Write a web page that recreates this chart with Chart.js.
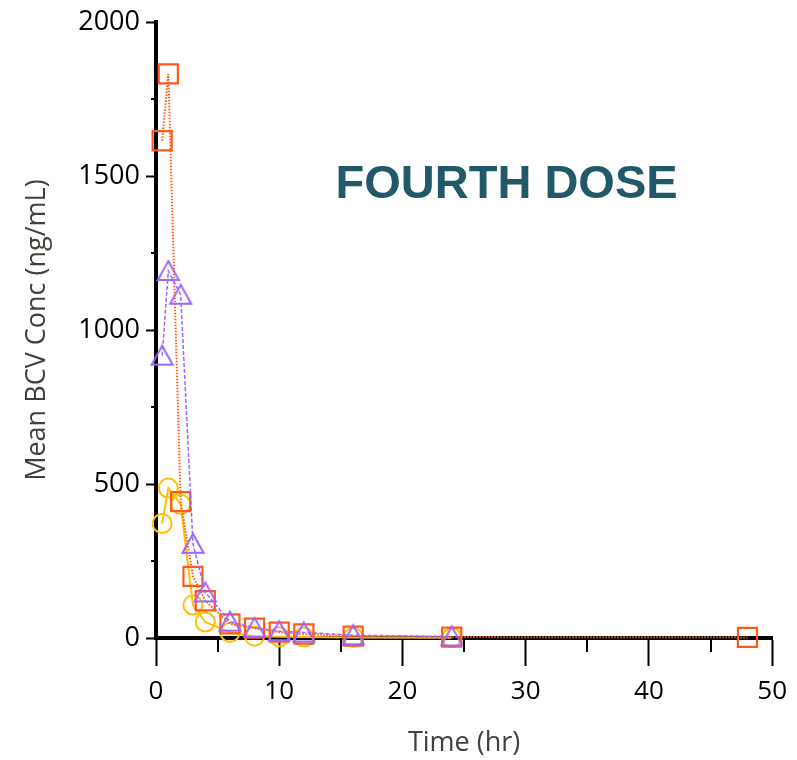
<!DOCTYPE html>
<html>
<head>
<meta charset="utf-8">
<script src="https://cdn.jsdelivr.net/npm/chart.js@4.4.1/dist/chart.umd.min.js"></script>
<style>
  html, body { margin: 0; padding: 0; background: #ffffff; }
  #wrap { position: relative; width: 797px; height: 760px; }
</style>
</head>
<body>
<div id="wrap"><canvas id="c" width="797" height="760"></canvas></div>
<script>
// ---- data ----
const timesHr = [0.5, 1, 2, 3, 4, 6, 8, 10, 12, 16, 24, 48];
const concOrange = [1615, 1832, 443, 200, 121, 46, 32, 19, 13, 6, 3, 2];
const concPurple = [917, 1192, 1115, 306, 148, 53, 33, 22, 18, 9, 5, null];
const concYellow = [372, 487, 434, 107, 52, 18, 6, 4, 3, 2, 1, null];
const xMajorTicks = [0, 10, 20, 30, 40, 50];
const xMinorTicks = [5, 15, 25, 35, 45];
const yMajorTicks = [0, 500, 1000, 1500, 2000];
const yMinorTicks = [250, 750, 1250, 1750];
const titleText = 'FOURTH DOSE';
const xTitle = 'Time (hr)';
const yTitle = 'Mean BCV Conc (ng/mL)';

function toPoints(vals) {
  const pts = [];
  for (let i = 0; i < timesHr.length; i++) {
    if (vals[i] !== null && vals[i] !== undefined) pts.push({ x: timesHr[i], y: vals[i] });
  }
  return pts;
}

// triangle marker centred on its bounding box
function triangleMarker(color) {
  const c = document.createElement('canvas');
  c.width = 26; c.height = 26;
  const g = c.getContext('2d');
  g.strokeStyle = color; g.lineWidth = 2; g.lineJoin = 'miter';
  g.beginPath();
  g.moveTo(13, 3);
  g.lineTo(23.5, 22);
  g.lineTo(2.5, 22);
  g.closePath();
  g.stroke();
  return c;
}

const ORANGE = '#ff5a1a';
const PURPLE = '#9966ff';
const YELLOW = '#ffc000';

const minorTickPlugin = {
  id: 'minorTicks',
  afterDraw(chart) {
    const ctx = chart.ctx;
    const xs = chart.scales.x, ys = chart.scales.y;
    const ca = chart.chartArea;
    ctx.save();
    ctx.strokeStyle = '#000';
    ctx.lineWidth = 2;
    ctx.beginPath();
    xMinorTicks.forEach(v => {
      const px = Math.round(xs.getPixelForValue(v));
      ctx.moveTo(px, ca.bottom);
      ctx.lineTo(px, ca.bottom + 14);
    });
    yMinorTicks.forEach(v => {
      const py = Math.round(ys.getPixelForValue(v));
      ctx.moveTo(ca.left, py);
      ctx.lineTo(ca.left - 5, py);
    });
    ctx.stroke();
    ctx.restore();
  }
};

const titlePlugin = {
  id: 'insideTitle',
  afterDraw(chart) {
    const ctx = chart.ctx;
    const ca = chart.chartArea;
    ctx.save();
    ctx.fillStyle = '#215968';
    ctx.font = 'bold 47px "Liberation Sans", Arial, sans-serif';
    ctx.textAlign = 'center';
    ctx.textBaseline = 'middle';
    ctx.fillText(titleText, ca.left + (ca.right - ca.left) * 0.569, ca.top + (ca.bottom - ca.top) * 0.264);
    ctx.restore();
  }
};

new Chart(document.getElementById('c'), {
  type: 'line',
  data: {
    datasets: [
      {
        label: 'Purple',
        data: toPoints(concPurple),
        borderColor: PURPLE,
        borderWidth: 1.5,
        borderDash: [4, 2],
        pointStyle: triangleMarker(PURPLE),
        pointRadius: 13,
        fill: false,
        clip: false,
        tension: 0
      },
      {
        label: 'Orange',
        data: toPoints(concOrange),
        borderColor: ORANGE,
        borderWidth: 2,
        borderDash: [1.5, 1.5],
        pointStyle: 'rect',
        pointRadius: 13.5,
        pointBorderWidth: 2.2,
        pointBorderColor: ORANGE,
        pointBackgroundColor: 'rgba(0,0,0,0)',
        fill: false,
        clip: false,
        tension: 0
      },
      {
        label: 'Yellow',
        data: toPoints(concYellow),
        borderColor: YELLOW,
        borderWidth: 2,
        pointStyle: 'circle',
        pointRadius: 9.5,
        pointBorderWidth: 2,
        pointBorderColor: YELLOW,
        pointBackgroundColor: 'rgba(0,0,0,0)',
        fill: false,
        clip: false,
        tension: 0
      }
    ]
  },
  options: {
    responsive: false,
    devicePixelRatio: 1,
    animation: false,
    layout: { padding: { top: 20, right: 22, bottom: 0, left: 0 } },
    plugins: {
      legend: { display: false },
      tooltip: { enabled: false },
      title: { display: false }
    },
    scales: {
      x: {
        type: 'linear',
        min: 0, max: 50,
        z: 1,
        afterBuildTicks(scale) { scale.ticks = xMajorTicks.map(v => ({ value: v })); },
        afterFit(scale) { scale.height = 122; },
        ticks: {
          color: '#000',
          font: { family: '"Open Sans", sans-serif', size: 26 },
          padding: 10,
          maxRotation: 0,
          autoSkip: false,
          callback: v => String(v)
        },
        grid: {
          drawOnChartArea: false,
          drawTicks: true,
          tickLength: 28,
          tickWidth: 2,
          tickColor: '#000'
        },
        border: { display: true, color: '#000', width: 4 },
        title: {
          display: true,
          text: xTitle,
          color: '#43403c',
          font: { family: '"Open Sans", sans-serif', size: 27 },
          padding: { top: 0, bottom: 0 }
        }
      },
      y: {
        type: 'linear',
        min: 0, max: 2000,
        z: 1,
        afterBuildTicks(scale) { scale.ticks = yMajorTicks.map(v => ({ value: v })); },
        afterFit(scale) { scale.width = 156; },
        ticks: {
          color: '#000',
          font: { family: '"Open Sans", sans-serif', size: 27 },
          padding: 6,
          autoSkip: false,
          callback: v => String(v)
        },
        grid: {
          drawOnChartArea: false,
          drawTicks: true,
          tickLength: 10,
          tickWidth: 2,
          tickColor: '#000'
        },
        border: { display: true, color: '#000', width: 4 },
        title: {
          display: true,
          text: yTitle,
          color: '#43403c',
          font: { family: '"Open Sans", sans-serif', size: 27 },
          padding: { top: 21, bottom: 0 }
        }
      }
    }
  },
  plugins: [minorTickPlugin, titlePlugin]
});
</script>
</body>
</html>
